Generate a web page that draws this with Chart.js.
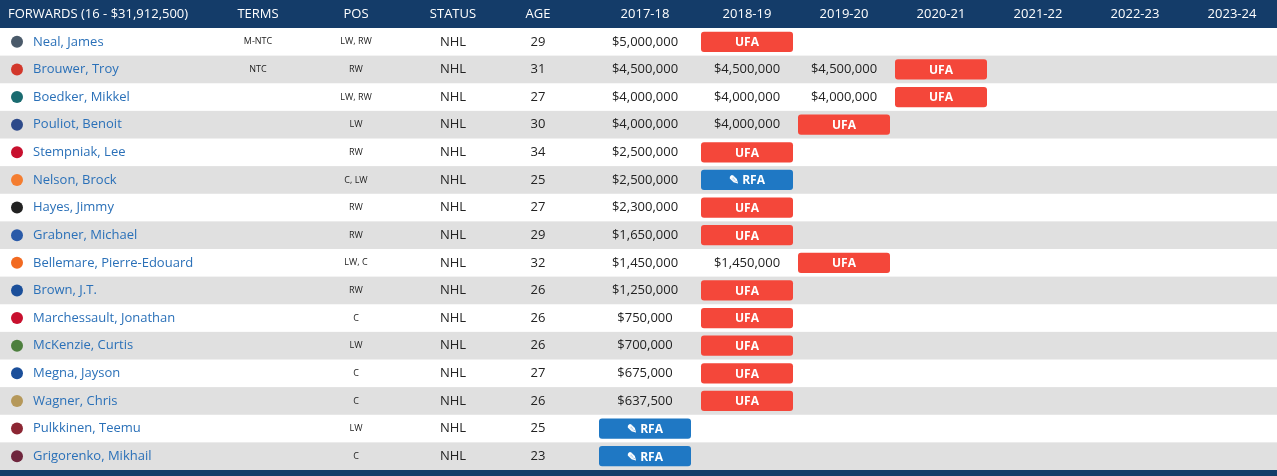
<!DOCTYPE html>
<html>
<head>
<meta charset="utf-8">
<script src="https://cdn.jsdelivr.net/npm/chart.js@4"></script>
<style>
  body { margin: 0; background: #fff; }
  #wrap { width: 1277px; height: 476px; position: relative; }
</style>
</head>
<body>
<div id="wrap"><canvas id="c"></canvas></div>
<script>
// Table data
const headers = ['FORWARDS (16 - $31,912,500)', 'TERMS', 'POS', 'STATUS', 'AGE',
    '2017-18', '2018-19', '2019-20', '2020-21', '2021-22', '2022-23', '2023-24'];
const players = ['Neal, James', 'Brouwer, Troy', 'Boedker, Mikkel', 'Pouliot, Benoit',
    'Stempniak, Lee', 'Nelson, Brock', 'Hayes, Jimmy', 'Grabner, Michael',
    'Bellemare, Pierre-Edouard', 'Brown, J.T.', 'Marchessault, Jonathan', 'McKenzie, Curtis',
    'Megna, Jayson', 'Wagner, Chris', 'Pulkkinen, Teemu', 'Grigorenko, Mikhail'];
const terms = ['M-NTC', 'NTC', '', '', '', '', '', '', '', '', '', '', '', '', '', ''];
const positions = ['LW, RW', 'RW', 'LW, RW', 'LW', 'RW', 'C, LW', 'RW', 'RW',
    'LW, C', 'RW', 'C', 'LW', 'C', 'C', 'LW', 'C'];
const ages = [29, 31, 27, 30, 34, 25, 27, 29, 32, 26, 26, 26, 27, 26, 25, 23];
const salaries = [
    ['$5,000,000'],
    ['$4,500,000', '$4,500,000', '$4,500,000'],
    ['$4,000,000', '$4,000,000', '$4,000,000'],
    ['$4,000,000', '$4,000,000'],
    ['$2,500,000'],
    ['$2,500,000'],
    ['$2,300,000'],
    ['$1,650,000'],
    ['$1,450,000', '$1,450,000'],
    ['$1,250,000'],
    ['$750,000'],
    ['$700,000'],
    ['$675,000'],
    ['$637,500'],
    [],
    []
];
// year column index (0 = 2017-18) where the player becomes a free agent
const faYear = [1, 3, 3, 2, 1, 1, 1, 1, 2, 1, 1, 1, 1, 1, 0, 0];
const faType = ['UFA', 'UFA', 'UFA', 'UFA', 'UFA', 'RFA', 'UFA', 'UFA',
    'UFA', 'UFA', 'UFA', 'UFA', 'UFA', 'UFA', 'RFA', 'RFA'];
const teamColors = ['#4a5a6a', '#d2372b', '#1a6b70', '#2d4a8a', '#c8102e', '#f47d30',
    '#222222', '#2a5aa8', '#f26a21', '#1b4f9a', '#c8102e', '#4d7f3e', '#1b4f9a',
    '#b5985a', '#8c2633', '#6f263d'];

// Layout
const colX = [33, 258, 356, 453, 538, 645, 747, 844, 941, 1038, 1135, 1232];
const yearCol0 = 5;
const badgeHalf = 46;

function badgeData(type) {
    return players.map((p, i) => {
        if (faType[i] !== type) return null;
        const c = colX[yearCol0 + faYear[i]];
        return [c - badgeHalf, c + badgeHalf];
    });
}

const tablePlugin = {
    id: 'table',
    beforeDatasetsDraw(chart) {
        const ctx = chart.ctx;
        const y = chart.scales.y;
        const h = y.getPixelForValue(1) - y.getPixelForValue(0);
        ctx.save();
        ctx.fillStyle = '#143c69';
        ctx.fillRect(0, 0, 1277, y.getPixelForValue(0) - h / 2);
        ctx.fillRect(0, y.getPixelForValue(players.length - 1) + h / 2, 1277, 10);
        players.forEach((p, i) => {
            if (i % 2 === 1) {
                ctx.fillStyle = '#e0e0e0';
                ctx.fillRect(0, y.getPixelForValue(i) - h / 2, 1277, h);
            }
        });
        // header
        ctx.fillStyle = '#fff';
        ctx.font = '13px "Open Sans"';
        ctx.textBaseline = 'middle';
        const hy = (y.getPixelForValue(0) - h / 2) / 2;
        headers.forEach((t, j) => {
            ctx.textAlign = j === 0 ? 'left' : 'center';
            ctx.fillText(t, j === 0 ? 8 : colX[j], hy);
        });
        ctx.restore();
    },
    afterDatasetsDraw(chart) {
        const ctx = chart.ctx;
        const y = chart.scales.y;
        ctx.save();
        ctx.textBaseline = 'middle';
        players.forEach((p, i) => {
            const py = y.getPixelForValue(i);
            // team logo
            ctx.fillStyle = teamColors[i];
            ctx.beginPath();
            ctx.arc(17, py, 6, 0, Math.PI * 2);
            ctx.fill();
            ctx.textAlign = 'left';
            ctx.fillStyle = '#2a70b8';
            ctx.font = '13px "Open Sans"';
            ctx.fillText(p, colX[0], py);
            ctx.textAlign = 'center';
            ctx.fillStyle = '#222';
            ctx.font = '9px "Open Sans"';
            ctx.fillText(terms[i], colX[1], py);
            ctx.fillText(positions[i], colX[2], py);
            ctx.font = '13px "Open Sans"';
            ctx.fillText('NHL', colX[3], py);
            ctx.fillText(String(ages[i]), colX[4], py);
            salaries[i].forEach((s, k) => ctx.fillText(s, colX[yearCol0 + k], py));
            ctx.fillStyle = '#fff';
            ctx.font = 'bold 12px "Open Sans"';
            const label = faType[i] === 'RFA' ? '\u270E RFA' : 'UFA';
            ctx.fillText(label, colX[yearCol0 + faYear[i]], py + 1);
        });
        ctx.restore();
    }
};

new Chart(document.getElementById('c'), {
    type: 'bar',
    data: {
        labels: players,
        datasets: [
            { label: 'UFA', data: badgeData('UFA'), backgroundColor: '#f4473a',
              borderRadius: 3, borderSkipped: false, grouped: false,
              categoryPercentage: 1, barPercentage: 0.73 },
            { label: 'RFA', data: badgeData('RFA'), backgroundColor: '#1f78c4',
              borderRadius: 3, borderSkipped: false, grouped: false,
              categoryPercentage: 1, barPercentage: 0.73 }
        ]
    },
    options: {
        indexAxis: 'y',
        responsive: true,
        maintainAspectRatio: false,
        animation: false,
        layout: { padding: { top: 28, bottom: 6, left: 0, right: 0 } },
        plugins: { legend: { display: false }, tooltip: { enabled: false } },
        scales: {
            x: { type: 'linear', min: 0, max: 1277, display: false },
            y: { type: 'category', display: false, offset: true }
        }
    },
    plugins: [tablePlugin]
});
</script>
</body>
</html>
